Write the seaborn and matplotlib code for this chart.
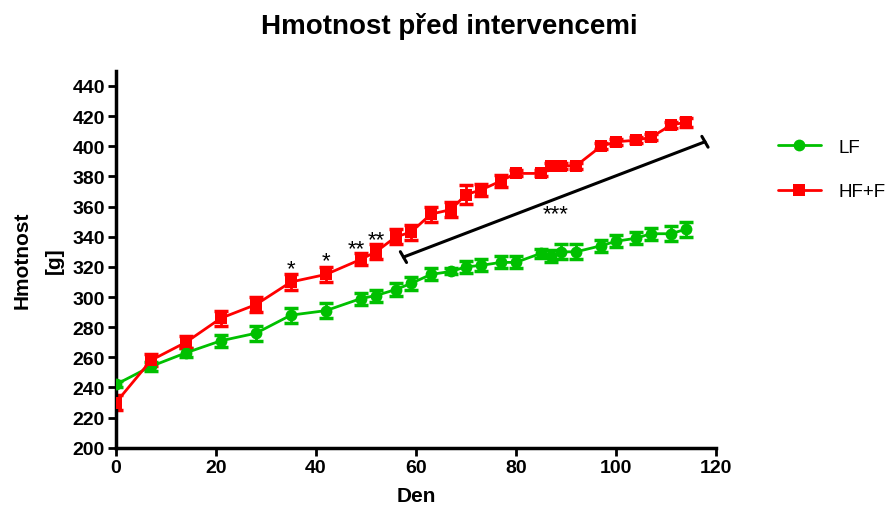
import numpy as np
import pandas as pd
import matplotlib
matplotlib.use('Agg')
import matplotlib.pyplot as plt
import seaborn as sns

# data (mean +/- SEM)
days = [0, 7, 14, 21, 28, 35, 42, 49, 52, 56, 59, 63, 67, 70, 73, 77, 80,
        85, 87, 89, 92, 97, 100, 104, 107, 111, 114]
lf_mean = [242, 254, 263, 271, 276, 288, 291, 299, 301, 305, 309, 315, 317,
           320, 321, 323, 323, 329, 327, 330, 330, 334, 337, 339, 342, 342, 345]
lf_sem = [2, 3, 3, 4, 5, 5, 5, 4, 4, 4, 4, 4, 2, 4, 4, 4, 4,
          3, 4, 5, 5, 4, 4, 4, 4, 5, 5]
hf_mean = [230, 258, 270, 286, 295, 310, 315, 325, 330, 340, 343, 355, 358,
           368, 371, 377, 382, 382, 387, 387, 387, 400, 403, 404, 406, 414, 416]
hf_sem = [5, 4, 4, 5, 5, 5, 5, 4, 5, 5, 5, 5, 5, 6, 4, 4, 2,
          2, 2, 2, 2, 2, 2, 2, 2, 2, 3]

groups = ["LF", "HF+F"]
colors = {"LF": "#00C000", "HF+F": "#FF0000"}
markers = {"LF": "o", "HF+F": "s"}

# significance marks: (day, y, text)
star_marks = [(35, 319, "*"), (42, 324, "*"), (48, 332, "**"), (52, 338, "**"),
              (88, 355, "***")]
bracket_start = (57.5, 326.5)
bracket_end = (117.8, 403)

df = pd.DataFrame({
    "Den": days * 2,
    "Hmotnost": lf_mean + hf_mean,
    "sem": lf_sem + hf_sem,
    "group": ["LF"] * len(days) + ["HF+F"] * len(days),
})

sns.set_style("ticks")
plt.rcParams['font.family'] = ['Liberation Sans', 'DejaVu Sans']
plt.rcParams['text.color'] = 'black'
plt.rcParams['axes.labelcolor'] = 'black'
plt.rcParams['xtick.color'] = 'black'
plt.rcParams['ytick.color'] = 'black'

fig = plt.figure(figsize=(8.85, 5.1), dpi=100)
ax = fig.add_axes([0.131, 0.12, 0.678, 0.739])

for g in groups:
    sub = df[df["group"] == g]
    ax.errorbar(sub["Den"], sub["Hmotnost"], yerr=sub["sem"], fmt="none",
                ecolor=colors[g], elinewidth=2, capsize=5, capthick=2.5, zorder=2)

sns.lineplot(data=df, x="Den", y="Hmotnost", hue="group", style="group",
             palette=colors, markers=markers, dashes=False, linewidth=2,
             markersize=8.5, markeredgewidth=0, ax=ax, zorder=3)

# significance stars
for d, y, t in star_marks:
    ax.text(d, y, t, ha="center", va="center", fontsize=16, color="black")

# bracket line with end caps
x0, y0 = bracket_start
x1, y1 = bracket_end
ax.plot([x0, x1], [y0, y1], color="black", lw=2.2, clip_on=False, zorder=4)
# perpendicular end ticks in pixel space
p0 = ax.transData.transform((x0, y0))
p1 = ax.transData.transform((x1, y1))
v = (p1 - p0) / np.linalg.norm(p1 - p0)
nrm = np.array([-v[1], v[0]]) * 7
inv = ax.transData.inverted()
for p in (p0, p1):
    a = inv.transform(p + nrm)
    b = inv.transform(p - nrm)
    ax.plot([a[0], b[0]], [a[1], b[1]], color="black", lw=2.2,
            clip_on=False, zorder=4)

ax.set_xlim(0, 120)
ax.set_ylim(200, 450)
ax.set_xticks(range(0, 121, 20))
ax.set_yticks(range(200, 441, 20))
sns.despine(ax=ax)
for s in ["left", "bottom"]:
    ax.spines[s].set_linewidth(2.5)
    ax.spines[s].set_color("black")
ax.tick_params(axis="both", length=6, width=2, color="black", labelsize=14,
               pad=2)
for lbl in ax.get_xticklabels() + ax.get_yticklabels():
    lbl.set_fontweight("bold")

ax.set_xlabel("Den", fontsize=15, fontweight="bold", labelpad=7)
ax.set_ylabel("Hmotnost\n[g]", fontsize=15, fontweight="bold", labelpad=6,
              linespacing=1.9)
fig.suptitle("Hmotnost před intervencemi", fontsize=20, fontweight="bold",
             x=0.508, y=0.975)

handles, labels = ax.get_legend_handles_labels()
ax.legend(handles, labels, loc="upper left", bbox_to_anchor=(1.075, 0.865),
          frameon=False, fontsize=13.5, handlelength=2.3, labelspacing=1.45,
          handletextpad=0.95)

fig.savefig("out.png", dpi=100)
